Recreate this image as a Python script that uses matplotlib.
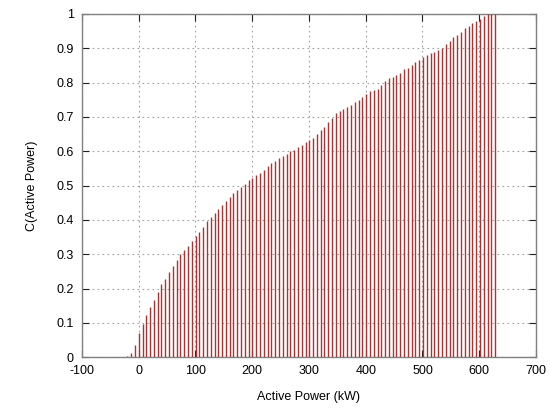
import matplotlib
matplotlib.use('Agg')
import matplotlib.pyplot as plt

# impulse positions (kW) and cumulative fraction
power_kw = [-20.0, -13.4, -6.7, 0.0, 6.7, 13.4, 20.0, 26.7, 33.4, 40.1,
            46.8, 53.4, 60.1, 66.8, 73.5, 80.2, 86.8, 93.5, 100.2, 106.9,
            113.6, 120.2, 126.9, 133.6, 140.3, 147.0, 153.6, 160.3, 167.0, 173.7,
            180.4, 187.0, 193.7, 200.4, 207.1, 213.8, 220.4, 227.1, 233.8, 240.5,
            247.2, 253.8, 260.5, 267.2, 273.9, 280.6, 287.2, 293.9, 300.6, 307.3,
            314.0, 320.6, 327.3, 334.0, 340.7, 347.4, 354.0, 360.7, 367.4, 374.1,
            380.8, 387.4, 394.1, 400.8, 407.5, 414.2, 420.8, 427.5, 434.2, 440.9,
            447.6, 454.2, 460.9, 467.6, 474.3, 481.0, 487.6, 494.3, 501.0, 507.7,
            514.4, 521.0, 527.7, 534.4, 541.1, 547.8, 554.4, 561.1, 567.8, 574.5,
            581.2, 587.8, 594.5, 601.2, 607.9, 614.6, 621.2, 627.9]

cdf = [0.004, 0.012, 0.035, 0.069, 0.098, 0.124, 0.147, 0.168, 0.190, 0.213,
       0.229, 0.247, 0.266, 0.283, 0.300, 0.311, 0.324, 0.339, 0.353, 0.365,
       0.380, 0.396, 0.408, 0.421, 0.432, 0.444, 0.455, 0.467, 0.477, 0.487,
       0.497, 0.506, 0.515, 0.522, 0.530, 0.537, 0.546, 0.557, 0.565, 0.572,
       0.580, 0.587, 0.593, 0.600, 0.605, 0.612, 0.619, 0.627, 0.633, 0.640,
       0.651, 0.661, 0.671, 0.684, 0.698, 0.710, 0.717, 0.723, 0.728, 0.734,
       0.743, 0.749, 0.757, 0.767, 0.776, 0.778, 0.782, 0.793, 0.804, 0.812,
       0.817, 0.821, 0.829, 0.839, 0.844, 0.850, 0.859, 0.866, 0.874, 0.881,
       0.885, 0.890, 0.895, 0.900, 0.912, 0.922, 0.932, 0.939, 0.948, 0.958,
       0.965, 0.973, 0.979, 0.986, 0.995, 1.0, 1.0, 1.0]

xticks = [-100, 0, 100, 200, 300, 400, 500, 600, 700]
yticks = [0, 0.1, 0.2, 0.3, 0.4, 0.5, 0.6, 0.7, 0.8, 0.9, 1]
ytick_labels = ['0', '0.1', '0.2', '0.3', '0.4', '0.5', '0.6', '0.7', '0.8', '0.9', '1']

plt.rcParams['font.family'] = ['Liberation Sans', 'DejaVu Sans']
plt.rcParams['axes.unicode_minus'] = False

fig, ax = plt.subplots(figsize=(5.5, 4.11), dpi=100)
fig.subplots_adjust(left=0.149, right=0.9745, top=0.966, bottom=0.131)

ax.vlines(power_kw, 0, cdf, color='#a83434', linewidth=1.0, zorder=3)

ax.set_xlim(-100, 700)
ax.set_ylim(0, 1)
ax.set_xticks(xticks)
ax.set_yticks(yticks)
ax.set_yticklabels(ytick_labels)
ax.grid(True, color='#a0a0a0', linestyle=(0, (1.5, 3)), linewidth=0.8)
ax.tick_params(direction='in', top=True, right=True, length=5, width=0.8,
               labelsize=9, pad=6, color='#202020')
for s in ax.spines.values():
    s.set_color('#808080')
    s.set_linewidth(1.0)

ax.set_xlabel('Active Power (kW)', fontsize=9, labelpad=10)
ax.set_ylabel('C(Active Power)', fontsize=9, labelpad=13)

fig.savefig('out.png', dpi=100)
